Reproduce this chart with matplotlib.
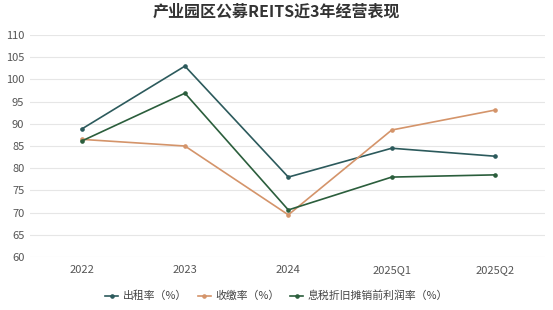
import matplotlib.pyplot as plt
import numpy as np

plt.rcParams['font.family'] = ['Noto Sans CJK SC', 'DejaVu Sans']

categories = ['2022', '2023', '2024', '2025Q1', '2025Q2']
occupancy = [88.8, 103.0, 78.0, 84.5, 82.7]
collection = [86.5, 85.0, 69.5, 88.6, 93.1]
ebitda_margin = [86.1, 96.9, 70.6, 78.0, 78.5]

series = [
    ('出租率（%）', occupancy, '#2c5a5c'),
    ('收缴率（%）', collection, '#d4946a'),
    ('息税折旧摊销前利润率（%）', ebitda_margin, '#2b5e3c'),
]

fig = plt.figure(figsize=(5.53, 3.10), dpi=100)
ax = fig.add_axes([0.054, 0.171, 0.931, 0.716])

x = np.arange(len(categories))
for label, vals, color in series:
    ax.plot(x, vals, color=color, linewidth=1.2, marker='o', markersize=2.3, label=label)

ax.set_ylim(60, 110)
ax.set_yticks(np.arange(60, 111, 5))
ax.set_xlim(-0.5, 4.48)
ax.set_xticks(x)
ax.set_xticklabels(categories)
ax.grid(axis='y', color='#e6e6e6', linewidth=0.8)
ax.set_axisbelow(True)
for s in ax.spines.values():
    s.set_visible(False)
ax.tick_params(axis='both', length=0, labelsize=8, colors='#555555')
ax.tick_params(axis='y', pad=4)
ax.tick_params(axis='x', pad=6)

fig.suptitle('产业园区公募REITS近3年经营表现', x=0.5, y=0.99, fontsize=11.5,
             fontweight='bold', color='#333333')

fig.legend(loc='center', bbox_to_anchor=(0.5, 0.045), ncol=3, frameon=False,
           fontsize=7.8, handlelength=1.2, handletextpad=0.4, columnspacing=1.0,
           labelcolor='#444444')

fig.savefig('out.png', dpi=100)
